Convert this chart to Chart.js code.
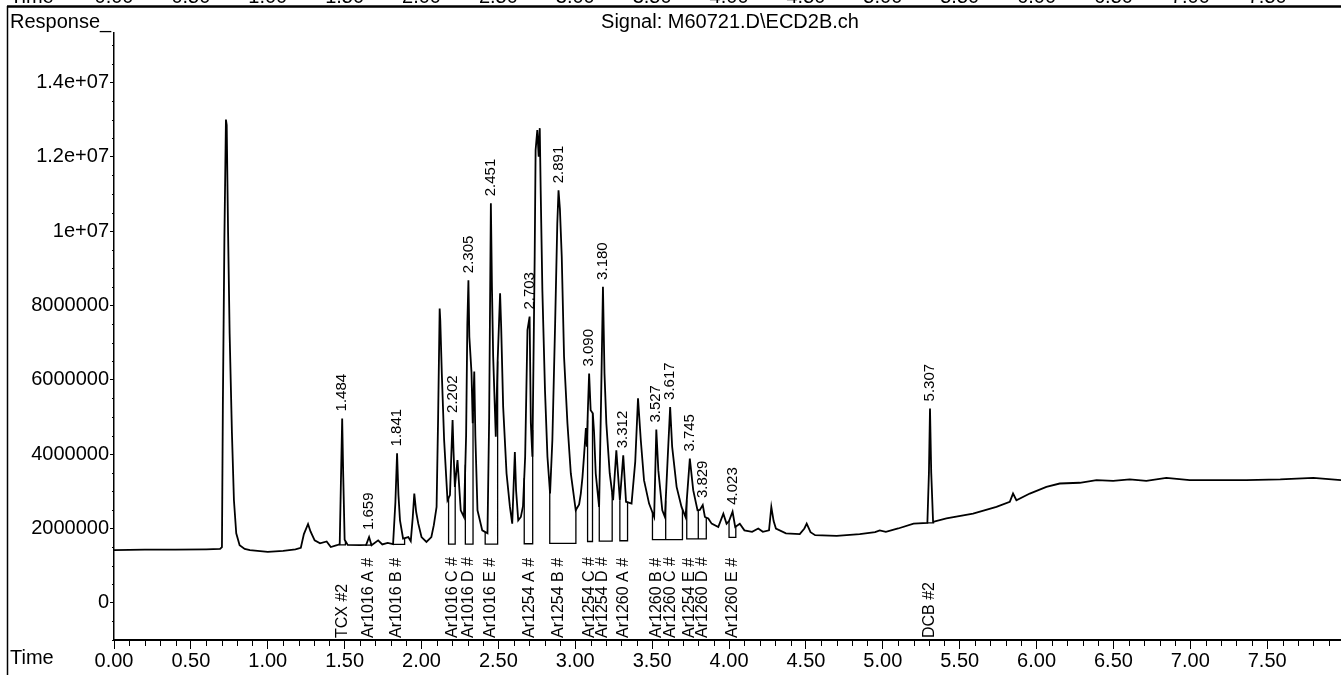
<!DOCTYPE html>
<html>
<head>
<meta charset="utf-8">
<script src="https://cdn.jsdelivr.net/npm/chart.js@4.4.1/dist/chart.umd.min.js"></script>
<style>
  html, body { margin: 0; padding: 0; background: #fff; }
  #wrap { width: 1341px; height: 675px; position: relative; }
</style>
</head>
<body>
<div id="wrap"><canvas id="chrom" width="1341" height="675"></canvas></div>
<script>
// ECD detector trace: [retention time (min), response]
const tracePoints = [
  [0.000,1.42e6],[0.200,1.43e6],[0.400,1.43e6],[0.600,1.44e6],[0.690,1.45e6],
  [0.702,1.50e6],[0.708,5.30e6],[0.718,9.80e6],[0.728,1.300e7],[0.733,1.285e7],
  [0.742,9.95e6],[0.752,7.25e6],[0.767,4.57e6],[0.780,2.76e6],[0.795,1.87e6],
  [0.817,1.55e6],[0.850,1.45e6],[0.884,1.42e6],[1.000,1.37e6],[1.100,1.40e6],
  [1.180,1.44e6],[1.215,1.48e6],[1.235,1.85e6],[1.262,2.12e6],[1.278,1.92e6],
  [1.305,1.68e6],[1.340,1.60e6],[1.383,1.65e6],[1.410,1.50e6],[1.450,1.55e6],
  [1.468,1.58e6],[1.476,3.30e6],[1.484,4.96e6],[1.491,3.40e6],[1.500,1.70e6],
  [1.520,1.56e6],[1.600,1.55e6],[1.640,1.56e6],[1.659,1.77e6],[1.675,1.55e6],
  [1.718,1.68e6],[1.745,1.57e6],[1.780,1.61e6],[1.815,1.58e6],[1.830,2.70e6],
  [1.841,4.02e6],[1.850,2.90e6],[1.860,2.22e6],[1.880,1.73e6],[1.914,1.77e6],
  [1.930,1.66e6],[1.943,2.30e6],[1.953,2.94e6],[1.965,2.45e6],[1.979,2.13e6],
  [2.000,1.77e6],[2.032,1.64e6],[2.064,1.77e6],[2.080,2.09e6],[2.098,2.58e6],
  [2.108,5.00e6],[2.118,7.92e6],[2.122,7.60e6],[2.132,6.17e6],[2.147,4.38e6],
  [2.169,2.76e6],[2.185,2.90e6],[2.194,4.00e6],[2.202,4.92e6],[2.208,4.10e6],
  [2.217,3.12e6],[2.234,3.84e6],[2.255,2.49e6],[2.276,2.31e6],[2.290,4.50e6],
  [2.298,7.50e6],[2.305,8.68e6],[2.311,7.16e6],[2.325,6.20e6],[2.333,4.83e6],
  [2.343,6.22e6],[2.350,4.50e6],[2.364,2.49e6],[2.395,1.95e6],[2.429,1.87e6],
  [2.440,5.00e6],[2.451,1.075e7],[2.458,8.50e6],[2.466,6.62e6],[2.483,4.47e6],
  [2.495,6.50e6],[2.511,8.33e6],[2.518,7.43e6],[2.531,5.27e6],[2.553,3.48e6],
  [2.575,2.58e6],[2.590,2.13e6],[2.607,4.06e6],[2.615,3.03e6],[2.629,2.22e6],
  [2.646,2.31e6],[2.660,2.60e6],[2.674,3.93e6],[2.689,7.34e6],[2.703,7.70e6],
  [2.711,4.83e6],[2.721,3.93e6],[2.736,9.31e6],[2.742,1.218e7],[2.753,1.272e7],
  [2.762,1.200e7],[2.769,1.277e7],[2.775,1.110e7],[2.786,8.40e6],[2.803,5.72e6],
  [2.819,3.93e6],[2.836,2.94e6],[2.851,4.38e6],[2.869,7.52e6],[2.883,1.020e7],
  [2.891,1.110e7],[2.900,1.060e7],[2.912,9.31e6],[2.927,6.62e6],[2.949,4.83e6],
  [2.971,3.48e6],[3.003,2.49e6],[3.025,2.65e6],[3.036,2.94e6],[3.047,3.39e6],
  [3.058,4.02e6],[3.069,4.70e6],[3.075,4.20e6],[3.082,5.20e6],[3.090,6.17e6],
  [3.100,5.18e6],[3.114,5.10e6],[3.122,4.60e6],[3.133,3.48e6],[3.155,2.58e6],
  [3.168,5.50e6],[3.180,8.50e6],[3.190,6.17e6],[3.202,4.83e6],[3.224,3.48e6],
  [3.246,2.76e6],[3.267,4.10e6],[3.290,2.76e6],[3.312,3.97e6],[3.330,2.72e6],
  [3.366,2.67e6],[3.390,3.80e6],[3.408,5.50e6],[3.426,4.38e6],[3.447,3.30e6],
  [3.480,2.67e6],[3.513,2.31e6],[3.527,4.66e6],[3.540,3.57e6],[3.566,2.49e6],
  [3.583,2.31e6],[3.600,3.80e6],[3.617,5.27e6],[3.630,4.20e6],[3.659,3.12e6],
  [3.691,2.58e6],[3.717,2.31e6],[3.745,3.88e6],[3.767,3.03e6],[3.795,2.49e6],
  [3.810,2.50e6],[3.829,2.63e6],[3.843,2.31e6],[3.865,2.27e6],[3.887,2.13e6],
  [3.930,2.04e6],[3.963,2.40e6],[3.984,2.13e6],[4.000,2.20e6],[4.023,2.45e6],
  [4.040,2.04e6],[4.070,2.13e6],[4.100,1.95e6],[4.150,1.91e6],[4.190,2.00e6],
  [4.220,1.91e6],[4.260,1.95e6],[4.275,2.58e6],[4.290,2.20e6],[4.305,2.00e6],
  [4.370,1.87e6],[4.460,1.85e6],[4.490,2.00e6],[4.505,2.13e6],[4.530,1.90e6],
  [4.560,1.82e6],[4.700,1.80e6],[4.850,1.85e6],[4.950,1.90e6],[4.980,1.95e6],
  [5.020,1.91e6],[5.100,2.00e6],[5.200,2.13e6],[5.290,2.15e6],[5.300,3.50e6],
  [5.307,5.23e6],[5.315,3.50e6],[5.327,2.18e6],[5.414,2.27e6],[5.587,2.40e6],
  [5.739,2.58e6],[5.826,2.72e6],[5.847,2.94e6],[5.869,2.76e6],[5.956,2.94e6],
  [6.064,3.12e6],[6.151,3.21e6],[6.281,3.23e6],[6.390,3.30e6],[6.498,3.28e6],
  [6.606,3.32e6],[6.714,3.28e6],[6.844,3.36e6],[6.996,3.30e6],[7.147,3.30e6],
  [7.364,3.30e6],[7.585,3.32e6],[7.800,3.36e6],[7.980,3.30e6]
];

// Integrated peaks: apex time, compound name, integration window and baseline
const peakTimes = [1.484, 1.659, 1.841, 2.202, 2.305, 2.451, 2.703, 2.891, 3.090,
                   3.180, 3.312, 3.527, 3.617, 3.745, 3.829, 4.023, 5.307];
const peakNames = ['TCX #2', 'Ar1016 A #', 'Ar1016 B #', 'Ar1016 C #', 'Ar1016 D #',
                   'Ar1016 E #', 'Ar1254 A #', 'Ar1254 B #', 'Ar1254 C #', 'Ar1254 D #',
                   'Ar1260 A #', 'Ar1260 B #', 'Ar1260 C #', 'Ar1254 E #', 'Ar1260 D #',
                   'Ar1260 E #', 'DCB #2'];
const peakStart = [1.465, 1.637, 1.815, 2.176, 2.285, 2.414, 2.668, 2.834, 3.080,
                   3.156, 3.290, 3.502, 3.588, 3.725, 3.800, 4.000, 5.290];
const peakEnd   = [1.505, 1.672, 1.890, 2.219, 2.335, 2.495, 2.723, 3.004, 3.112,
                   3.240, 3.340, 3.588, 3.697, 3.800, 3.852, 4.044, 5.330];
const peakBase  = [1.56e6, 1.55e6, 1.57e6, 1.58e6, 1.58e6, 1.58e6, 1.59e6, 1.60e6, 1.65e6,
                   1.66e6, 1.67e6, 1.70e6, 1.70e6, 1.72e6, 1.72e6, 1.76e6, 2.15e6];

// Axis ticks
const xTickValues = [0, 0.5, 1, 1.5, 2, 2.5, 3, 3.5, 4, 4.5, 5, 5.5, 6, 6.5, 7, 7.5];
const xTickLabels = ['0.00','0.50','1.00','1.50','2.00','2.50','3.00','3.50','4.00',
                     '4.50','5.00','5.50','6.00','6.50','7.00','7.50'];
const yTickValues = [0, 2e6, 4e6, 6e6, 8e6, 1e7, 1.2e7, 1.4e7];
const yTickLabels = ['0','2000000','4000000','6000000','8000000','1e+07','1.2e+07','1.4e+07'];
const xMinorStep = 0.1;
const yMinorStep = 5e5;

const signalTitle = 'Signal: M60721.D\\ECD2B.ch';

const FONT = "'Liberation Sans', Arial, Helvetica, sans-serif";

// Response of the trace at time t (linear between recorded points)
function responseAt(t) {
  for (let i = 1; i < tracePoints.length; i++) {
    const [t0, v0] = tracePoints[i - 1];
    const [t1, v1] = tracePoints[i];
    if (t >= t0 && t <= t1) return v0 + (v1 - v0) * (t - t0) / (t1 - t0);
  }
  return tracePoints[tracePoints.length - 1][1];
}

// Drop lines and baselines of the integrated peaks
const integrationData = [];
peakTimes.forEach((_, i) => {
  integrationData.push({x: peakStart[i], y: responseAt(peakStart[i])});
  integrationData.push({x: peakStart[i], y: peakBase[i]});
  integrationData.push({x: peakEnd[i], y: peakBase[i]});
  integrationData.push({x: peakEnd[i], y: responseAt(peakEnd[i])});
  integrationData.push({x: peakEnd[i], y: null});
});

const decorations = {
  id: 'decorations',
  afterDraw(chart) {
    const ctx = chart.ctx;
    const xs = chart.scales.x, ys = chart.scales.y;
    const area = chart.chartArea;
    ctx.save();
    ctx.fillStyle = '#000';
    ctx.strokeStyle = '#000';

    // page frame
    ctx.lineWidth = 2.5;
    ctx.beginPath(); ctx.moveTo(7, 6.5); ctx.lineTo(1341, 6.5); ctx.stroke();
    ctx.lineWidth = 1.5;
    ctx.beginPath(); ctx.moveTo(7.5, 6); ctx.lineTo(7.5, 675); ctx.stroke();

    // time row of the panel above (only its lower edge shows)
    ctx.font = '20px ' + FONT;
    ctx.textBaseline = 'alphabetic';
    ctx.textAlign = 'left';
    ctx.fillText('Time', 10, 3);
    ctx.textAlign = 'center';
    xTickValues.forEach((v, i) => ctx.fillText(xTickLabels[i], xs.getPixelForValue(v), 3));

    // header texts
    ctx.textBaseline = 'middle';
    ctx.textAlign = 'left';
    ctx.fillText('Response_', 10, 22);
    ctx.textAlign = 'center';
    ctx.fillText(signalTitle, 730, 22);
    ctx.textAlign = 'left';
    ctx.fillText('Time', 10, 658);

    // minor ticks
    ctx.lineWidth = 1;
    for (let t = xMinorStep; t < xs.max; t += xMinorStep) {
      const r = Math.round(t * 10) / 10;
      if (Math.abs(r * 2 - Math.round(r * 2)) < 1e-6) continue;
      const px = Math.round(xs.getPixelForValue(r)) + 0.5;
      ctx.beginPath(); ctx.moveTo(px, area.bottom + 1); ctx.lineTo(px, area.bottom + 6); ctx.stroke();
    }
    for (let v = ys.min; v <= ys.max; v += yMinorStep) {
      if (Math.abs(v / 2e6 - Math.round(v / 2e6)) < 1e-6) continue;
      const py = Math.round(ys.getPixelForValue(v)) + 0.5;
      ctx.beginPath(); ctx.moveTo(area.left - 2, py); ctx.lineTo(area.left, py); ctx.stroke();
    }

    // retention-time labels above the apexes
    ctx.font = '15px ' + FONT;
    ctx.textAlign = 'left';
    ctx.textBaseline = 'middle';
    peakTimes.forEach((t) => {
      let apex = -Infinity;
      tracePoints.forEach(([pt, pv]) => { if (Math.abs(pt - t) < 0.003 && pv > apex) apex = pv; });
      const px = xs.getPixelForValue(t);
      const py = ys.getPixelForValue(apex);
      ctx.save();
      ctx.translate(px, py - 7);
      ctx.rotate(-Math.PI / 2);
      ctx.fillText(t.toFixed(3), 0, 0);
      ctx.restore();
    });

    // compound names along the time axis
    ctx.font = '16px ' + FONT;
    peakTimes.forEach((t, i) => {
      const px = xs.getPixelForValue(t);
      ctx.save();
      ctx.translate(px, area.bottom - 2);
      ctx.rotate(-Math.PI / 2);
      ctx.fillText(peakNames[i], 0, 0);
      ctx.restore();
    });
    ctx.restore();
  }
};

Chart.defaults.font.family = FONT;
Chart.defaults.color = '#000';

new Chart(document.getElementById('chrom'), {
  type: 'line',
  data: {
    datasets: [
      {
        label: 'ECD2B',
        data: tracePoints.map(([t, v]) => ({x: t, y: v})),
        borderColor: '#000',
        borderWidth: 1.8,
        pointRadius: 0,
        tension: 0,
        fill: false
      },
      {
        label: 'integration',
        data: integrationData,
        borderColor: '#000',
        borderWidth: 1.3,
        pointRadius: 0,
        tension: 0,
        spanGaps: false,
        fill: false
      }
    ]
  },
  options: {
    responsive: false,
    animation: false,
    devicePixelRatio: 1,
    layout: { padding: { top: 33, right: 0, left: 0, bottom: 0 } },
    plugins: { legend: { display: false }, tooltip: { enabled: false }, title: { display: false } },
    scales: {
      x: {
        type: 'linear',
        min: 0,
        max: 7.98,
        afterBuildTicks(scale) { scale.ticks = xTickValues.map(v => ({value: v})); },
        afterFit(scale) { scale.height = 35; },
        ticks: {
          callback: (v) => xTickLabels[xTickValues.indexOf(v)],
          font: { size: 20 },
          color: '#000',
          padding: 0,
          maxRotation: 0,
          autoSkip: false
        },
        grid: { drawOnChartArea: false, drawTicks: true, tickLength: 9, color: '#000', lineWidth: 1 },
        border: { display: true, color: '#000', width: 2 }
      },
      y: {
        type: 'linear',
        min: -1e6,
        max: 1.533e7,
        afterBuildTicks(scale) { scale.ticks = yTickValues.map(v => ({value: v})); },
        afterFit(scale) { scale.width = 114; },
        ticks: {
          callback: (v) => yTickLabels[yTickValues.indexOf(v)],
          font: { size: 20 },
          color: '#000',
          padding: 1,
          autoSkip: false
        },
        grid: { drawOnChartArea: false, drawTicks: true, tickLength: 4, color: '#000', lineWidth: 1 },
        border: { display: true, color: '#000', width: 1.5 }
      }
    }
  },
  plugins: [decorations]
});
</script>
</body>
</html>
